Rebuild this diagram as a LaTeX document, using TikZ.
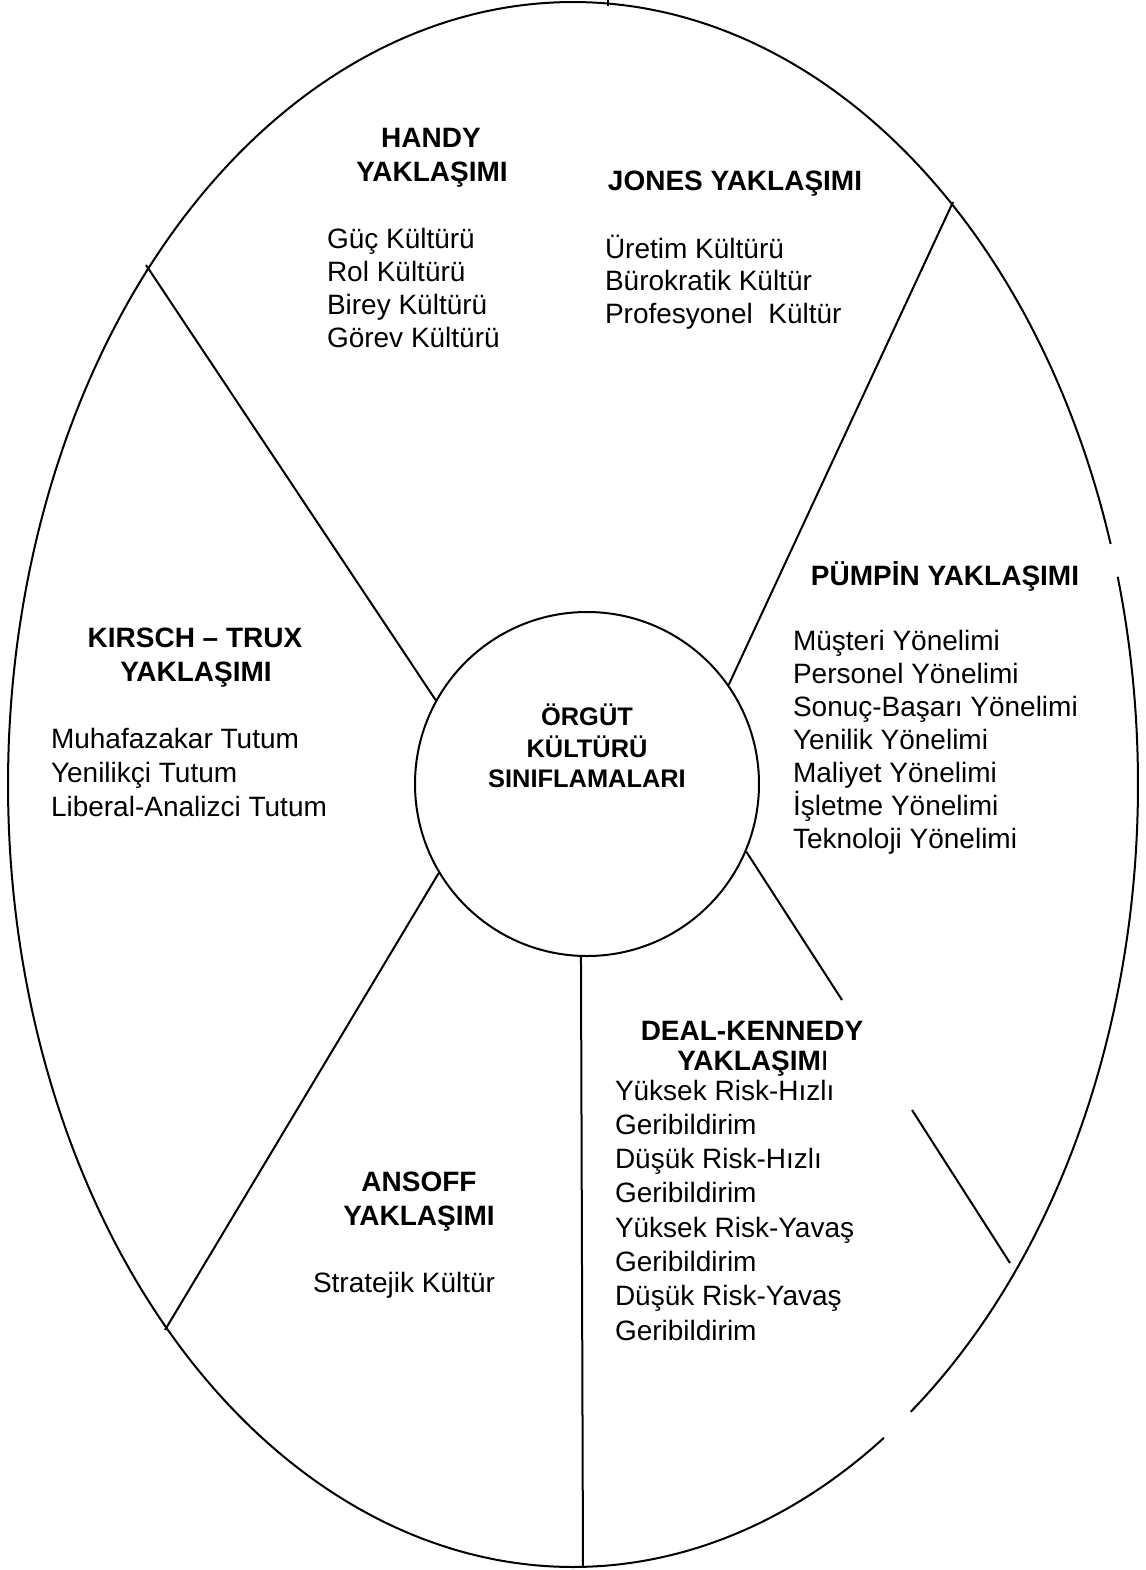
\documentclass[tikz,border=0pt]{standalone}
\usepackage{fontspec}
\setmainfont{Liberation Sans}
\begin{document}
\begin{tikzpicture}[x=0.5pt,y=-0.5pt,line width=1pt,
  head/.style={inner sep=0pt,anchor=base,font=\fontsize{14}{16}\selectfont\bfseries},
  item/.style={inner sep=0pt,anchor=base west,font=\fontsize{14}{16}\selectfont},
  corelabel/.style={inner sep=0pt,anchor=base,font=\fontsize{12.7}{15}\selectfont\bfseries}]
\fill[white] (0,0) rectangle (1146,1570);
\useasboundingbox (0,0) rectangle (1146,1570);

% outer ellipse, drawn in two pieces with small openings on the right
\draw plot[domain=-15.4:53.3,samples=120,smooth]
  ({573+565*cos(\x)},{784.5+782.5*sin(\x)});
\draw plot[domain=56.6:342.1,samples=360,smooth]
  ({573+565*cos(\x)},{784.5+782.5*sin(\x)});
\draw (608,0) -- (608,6);

% central circle
\node[draw,circle,minimum size=172pt,inner sep=0pt] (core) at (587,784) {};
\node[corelabel] (core1) at (587,725) {ÖRGÜT};
\node[corelabel] (core2) at (587,757) {KÜLTÜRÜ};
\node[corelabel] (core3) at (587,787) {SINIFLAMALARI};

% free ends of the dividing lines
\coordinate (kt) at (146,265);
\coordinate (pu) at (953,202);
\coordinate (dk1) at (842,1000);
\coordinate (dk2) at (912,1110);
\coordinate (dk3) at (1010,1263);
\coordinate (an) at (165,1330);
\coordinate (bt) at (583,1567);

\draw (core.151) -- (kt);
\draw (core.35) -- (pu);
\draw (core.-23) -- (dk1);
\draw (dk2) -- (dk3);
\draw (core.211) -- (an);
\draw (core.268) -- (bt);

% Handy
\node[head] (handyA) at (431,147) {HANDY};
\node[head] (handyB) at (432,181) {YAKLAŞIMI};
\foreach \t [count=\i] in {Güç Kültürü,Rol Kültürü,Birey Kültürü,Görev Kültürü}
  \node[item] (handy\i) at (326,{248+33.3*(\i-1)}) {\t};

% Jones
\node[head] (jones) at (735,190) {JONES YAKLAŞIMI};
\foreach \t [count=\i] in {Üretim Kültürü,Bürokratik Kültür,Profesyonel\ \ Kültür}
  \node[item] (jones\i) at (604,{258+32.5*(\i-1)}) {\t};

% Pümpin
\node[head] (pumpin) at (945,585) {PÜMPİN YAKLAŞIMI};
\foreach \t [count=\i] in {Müşteri Yönelimi,Personel Yönelimi,Sonuç-Başarı Yönelimi,Yenilik Yönelimi,Maliyet Yönelimi,İşletme Yönelimi,Teknoloji Yönelimi}
  \node[item] (pumpin\i) at (792,{650+33*(\i-1)}) {\t};

% Kirsch - Trux
\node[head] (kirschA) at (195,647) {KIRSCH – TRUX};
\node[head] (kirschB) at (196,681) {YAKLAŞIMI};
\foreach \t [count=\i] in {Muhafazakar Tutum,Yenilikçi Tutum,Liberal-Analizci Tutum}
  \node[item] (kirsch\i) at (50,{748+34*(\i-1)}) {\t};

% Ansoff
\node[head] (ansoffA) at (419,1191) {ANSOFF};
\node[head] (ansoffB) at (419,1225) {YAKLAŞIMI};
\node[item] (ansoff1) at (312,1292) {Stratejik Kültür};

% Deal - Kennedy
\node[head] (dealA) at (752,1040) {DEAL-KENNEDY};
\node[head] (dealB) at (753,1070) {YAKLAŞIM\mdseries I};
\foreach \t [count=\i] in {Yüksek Risk-Hızlı,Geribildirim,Düşük Risk-Hızlı,Geribildirim,Yüksek Risk-Yavaş,Geribildirim,Düşük Risk-Yavaş,Geribildirim}
  \node[item] (deal\i) at (614,{1100+34.3*(\i-1)}) {\t};
\end{tikzpicture}
\end{document}
